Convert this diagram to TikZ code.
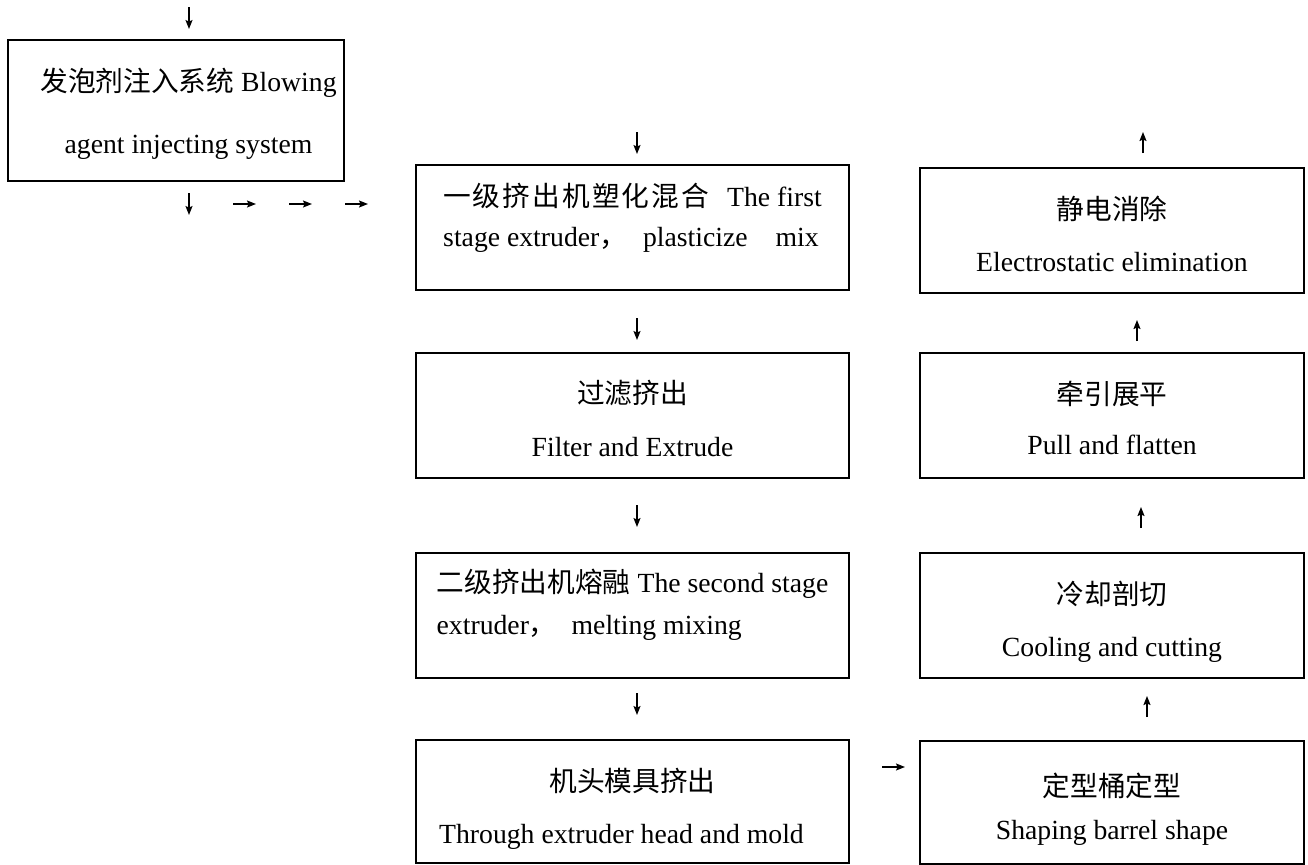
\documentclass[tikz,border=0pt]{standalone}
\usepackage{fontspec}
\setmainfont{Liberation Serif}
\newfontfamily\zhfont{Noto Sans CJK SC}
\newfontfamily\zhwidefont{Noto Sans CJK SC}[LetterSpace=7.5]
\newcommand\zh[1]{{\zhfont #1}}
\newcommand\zhwide[1]{{\zhwidefont #1}}
\newcommand\fs[1]{\fontsize{13.85pt}{#1}\selectfont}
\usetikzlibrary{arrows.meta}

\tikzset{procbox/.style = {draw, line width=1pt, inner sep=0pt, anchor=north west,
                           minimum height=0pt, font=\fs{26pt}},
         leftcol/.style  = {procbox, minimum width=216.5pt},
         rightcol/.style = {procbox, minimum width=192pt},
         lastline/.style = {text height=#1, text depth=62.5pt-#1},
         arr/.style = {line width=0.75pt, -{Stealth[length=4.5pt, width=3.5pt, inset=0.8pt]}}
        }

\begin{document}
\begin{tikzpicture}[x=0.5pt, y=-0.5pt]
  \useasboundingbox (0,0) rectangle (1308,864);
  % blowing agent
  \node[procbox, minimum width=168pt, align=center, font=\fs{31pt},
        text height=56.5pt, text depth=14pt] (inject) at (7,39)
    {\hspace*{12.5pt}\zh{发泡剂注入系统} Blowing\\ \hspace*{12.5pt}agent injecting system};
  % left column, going down
  \node[leftcol, align=left, font=\fs{20pt}, lastline=40.5pt] (ext1) at (415,164)
    {\zhwide{一级挤出机塑化混合}\hspace{9pt}The first\\
     stage extruder\zh{，}\hspace{8pt}plasticize\hspace{14pt}mix};
  \node[leftcol, align=center, font=\fs{26.5pt}, lastline=51.5pt] (filt) at (415,352)
    {\zh{过滤挤出}\\Filter and Extrude};
  \node[leftcol, align=left, font=\fs{21pt}, lastline=40.5pt] (ext2) at (415,552)
    {\zh{二级挤出机熔融}\hspace{3.5pt}The second stage\\
     extruder\zh{，}\hspace{7.5pt}melting mixing};
  \node[leftcol, align=center, lastline=51.5pt, text depth=10pt] (die) at (415,739)
    {\zh{机头模具挤出}\\Through extruder head and mold\hspace*{11pt}};
  % right column, going up
  \node[rightcol, align=center, lastline=51.5pt] (elim) at (919,167)
    {\zh{静电消除}\\Electrostatic elimination};
  \node[rightcol, align=center, font=\fs{25pt}, lastline=50.5pt] (pull) at (919,352)
    {\zh{牵引展平}\\Pull and flatten};
  \node[rightcol, align=center, lastline=51.5pt] (cool) at (919,552)
    {\zh{冷却剖切}\\Cooling and cutting};
  \node[rightcol, align=center, font=\fs{21.5pt}, lastline=49pt, text depth=12.25pt] (shape) at (919,740)
    {\zh{定型桶定型}\\Shaping barrel shape};
  % arrows
  \foreach \n/\x/\y in {s0/189/7, s1/189/193, d0/637/132, d1/637/318, d2/637/505, d3/637/693}
    {\coordinate (\n) at (\x,\y); \draw[arr] (\n) -- ++(0,22);};
  \foreach \n/\x/\y in {u0/1143/153, u1/1137/341, u2/1141/528, u3/1147/717}
    {\coordinate (\n) at (\x,\y); \draw[arr] (\n) -- ++(0,-21);};
  \foreach \n/\x/\y in {r1/233/204, r2/289/204, r3/345/204, r4/882/767}
    {\coordinate (\n) at (\x,\y); \draw[arr] (\n) -- ++(23,0);};
\end{tikzpicture}
\end{document}
